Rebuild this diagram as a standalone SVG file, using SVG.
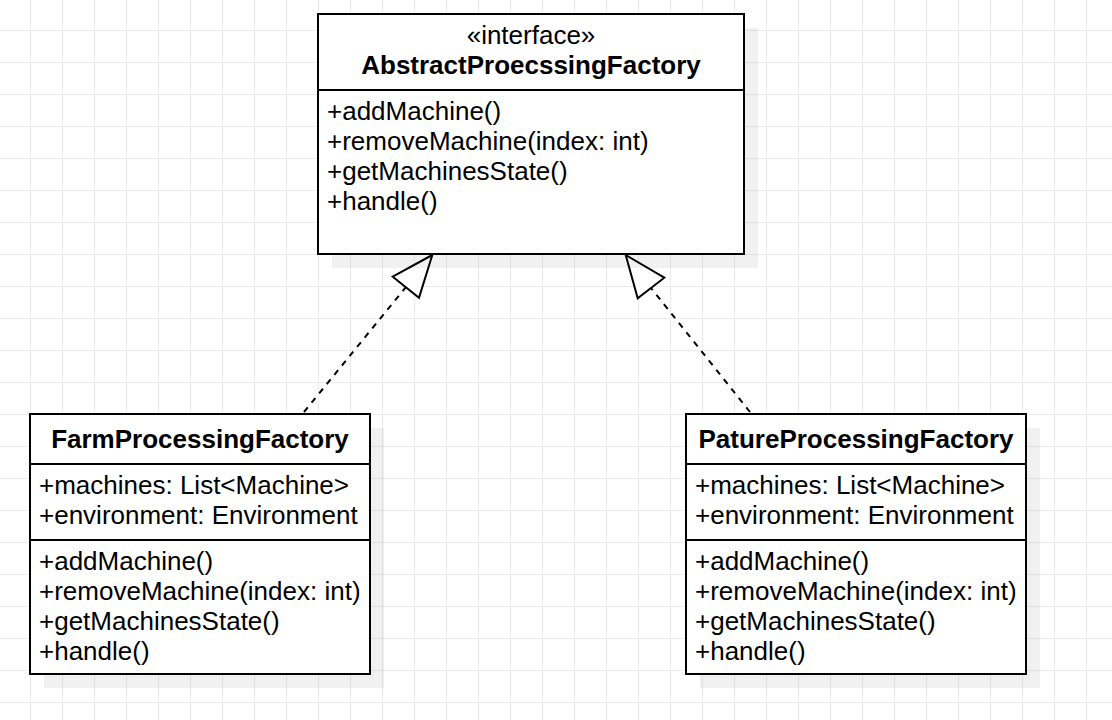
<svg xmlns="http://www.w3.org/2000/svg" width="1112" height="720" viewBox="0 0 1112 720">
  <defs>
    <pattern id="grid" x="30" y="30" width="32" height="32" patternUnits="userSpaceOnUse">
      <path d="M0 0.5H32M0.5 0V32" stroke="#ebebeb" stroke-width="1" fill="none"/>
    </pattern>
    <style>
      .box { fill: #ffffff; stroke: #000000; stroke-width: 2; }
      .shadow { fill: #000000; fill-opacity: 0.055; stroke: none; }
      .div { stroke: #000000; stroke-width: 2; fill: none; }
      .t { font-family: "Liberation Sans", Arial, sans-serif; font-size: 26px; fill: #000000; }
      .title { font-weight: bold; text-anchor: middle; }
      .stereo { text-anchor: middle; }
      .dash { stroke: #000000; stroke-width: 2; stroke-dasharray: 6 6; fill: none; }
      .head { fill: #ffffff; stroke: #000000; stroke-width: 2; stroke-linejoin: miter; }
    </style>
  </defs>
  <rect x="0" y="0" width="1112" height="720" fill="#ffffff"/>
  <rect x="0" y="0" width="1112" height="720" fill="url(#grid)"/>

  <g id="connectors">
    <line class="dash" x1="304" y1="412" x2="405.8" y2="287.2"/>
    <polygon class="head" points="432.3,255 392.7,276.7 419,297.7"/>
    <line class="dash" x1="750" y1="412" x2="651" y2="288"/>
    <polygon class="head" points="625.7,255 664.3,277.7 637.7,298.3"/>
  </g>

  <g id="AbstractProecssingFactory">
    <rect class="shadow" x="332" y="28" width="426" height="240"/>
    <rect class="box" x="318" y="14" width="426" height="240"/>
    <line class="div" x1="318" y1="90" x2="744" y2="90"/>
    <text class="t stereo" x="531" y="44">«interface»</text>
    <text class="t title" x="531" y="74">AbstractProecssingFactory</text>
    <text class="t" x="327" y="120">+addMachine()</text>
    <text class="t" x="327" y="150">+removeMachine(index: int)</text>
    <text class="t" x="327" y="180">+getMachinesState()</text>
    <text class="t" x="327" y="210">+handle()</text>
  </g>

  <g id="FarmProcessingFactory">
    <rect class="shadow" x="44" y="428" width="340" height="260"/>
    <rect class="box" x="30" y="414" width="340" height="260"/>
    <line class="div" x1="30" y1="464" x2="370" y2="464"/>
    <line class="div" x1="30" y1="540" x2="370" y2="540"/>
    <text class="t title" x="200" y="448">FarmProcessingFactory</text>
    <text class="t" x="39" y="494">+machines: List&lt;Machine&gt;</text>
    <text class="t" x="39" y="524">+environment: Environment</text>
    <text class="t" x="39" y="570">+addMachine()</text>
    <text class="t" x="39" y="600">+removeMachine(index: int)</text>
    <text class="t" x="39" y="630">+getMachinesState()</text>
    <text class="t" x="39" y="660">+handle()</text>
  </g>

  <g id="PatureProcessingFactory">
    <rect class="shadow" x="700" y="428" width="340" height="260"/>
    <rect class="box" x="686" y="414" width="340" height="260"/>
    <line class="div" x1="686" y1="464" x2="1026" y2="464"/>
    <line class="div" x1="686" y1="540" x2="1026" y2="540"/>
    <text class="t title" x="856" y="448">PatureProcessingFactory</text>
    <text class="t" x="695" y="494">+machines: List&lt;Machine&gt;</text>
    <text class="t" x="695" y="524">+environment: Environment</text>
    <text class="t" x="695" y="570">+addMachine()</text>
    <text class="t" x="695" y="600">+removeMachine(index: int)</text>
    <text class="t" x="695" y="630">+getMachinesState()</text>
    <text class="t" x="695" y="660">+handle()</text>
  </g>
</svg>
